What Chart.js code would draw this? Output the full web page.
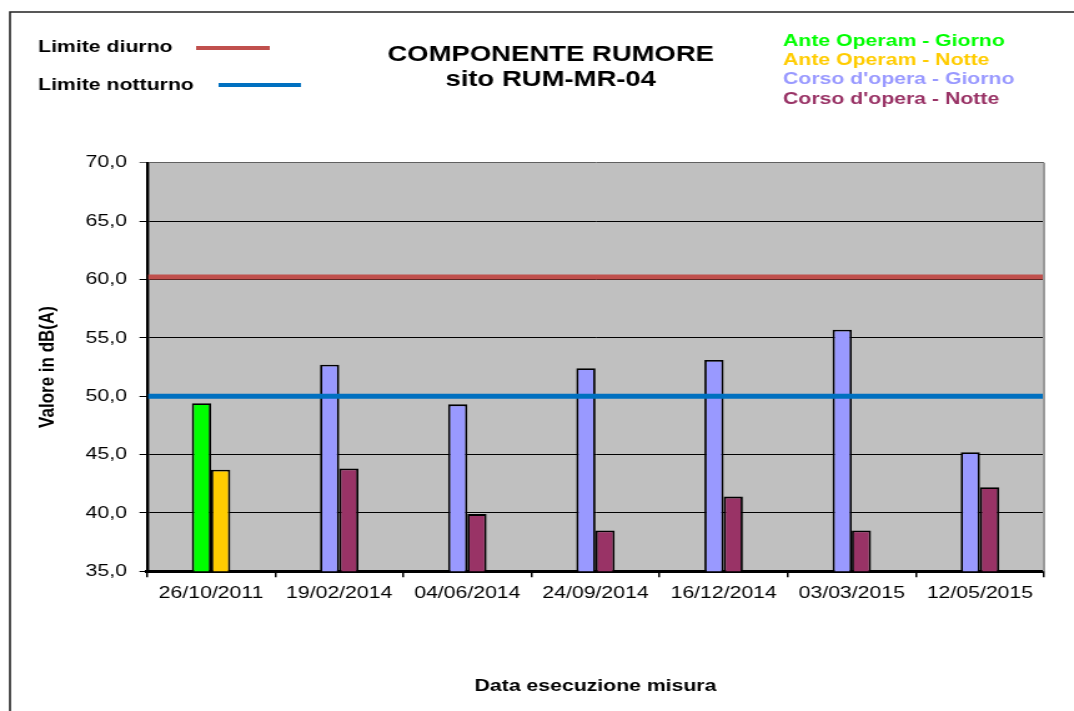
<!DOCTYPE html>
<html>
<head>
<meta charset="utf-8">
<script src="https://cdn.jsdelivr.net/npm/chart.js@4.4.1/dist/chart.umd.min.js"></script>
<style>
  html, body { margin: 0; padding: 0; background: #fff; overflow: hidden; }
  /* the original picture is stretched sideways, so the whole chart is too */
  #wrap { width: 860px; height: 711px; transform: scaleX(1.2488); transform-origin: 0 0; }
</style>
</head>
<body>
<div id="wrap"><canvas id="rumore" width="860" height="711"></canvas></div>
<script>
const categories = ['26/10/2011', '19/02/2014', '04/06/2014', '24/09/2014', '16/12/2014', '03/03/2015', '12/05/2015'];
const anteGiorno = [49.4, null, null, null, null, null, null];
const anteNotte = [43.7, null, null, null, null, null, null];
const corsoGiorno = [null, 52.7, 49.3, 52.4, 53.1, 55.7, 45.2];
const corsoNotte = [null, 43.8, 39.9, 38.5, 41.4, 38.5, 42.2];
const limiteDiurno = 60.2;
const limiteNotturno = 50;
const seriesNames = ['Ante Operam - Giorno', 'Ante Operam - Notte', "Corso d'opera - Giorno", "Corso d'opera - Notte"];
const seriesColors = ['#00ff00', '#ffcc00', '#9999ff', '#993366'];

const FONT = '"Liberation Sans", Arial, sans-serif';
Chart.defaults.font.family = FONT;
Chart.defaults.font.size = 17;
Chart.defaults.color = '#000';

const decor = {
    id: 'decor',
    beforeDraw(chart) {
        const { ctx, chartArea: a } = chart;
        ctx.save();
        ctx.fillStyle = '#c0c0c0';
        ctx.fillRect(a.left, a.top, a.right - a.left, a.bottom - a.top);
        ctx.restore();
    },
    afterDatasetsDraw(chart) {
        const { ctx, chartArea: a } = chart;
        const y = chart.scales.y;
        ctx.save();
        ctx.lineWidth = 5;
        [[limiteDiurno, '#c0504d'], [limiteNotturno, '#0070c0']].forEach(([v, c]) => {
            const py = y.getPixelForValue(v);
            ctx.strokeStyle = c;
            ctx.beginPath();
            ctx.moveTo(a.left + 1, py);
            ctx.lineTo(a.right, py);
            ctx.stroke();
        });
        // plot area right edge
        ctx.strokeStyle = '#999';
        ctx.lineWidth = 2;
        ctx.beginPath();
        ctx.moveTo(a.right, a.top);
        ctx.lineTo(a.right, a.bottom);
        ctx.stroke();
        ctx.restore();
    },
    afterDraw(chart) {
        const ctx = chart.ctx;
        ctx.save();
        // outer frame
        ctx.strokeStyle = '#222';
        ctx.lineWidth = 1.6;
        ctx.beginPath();
        ctx.moveTo(8, 711);
        ctx.lineTo(8, 12);
        ctx.lineTo(860, 12);
        ctx.stroke();

        ctx.textBaseline = 'middle';
        // title
        ctx.textAlign = 'center';
        ctx.font = 'bold 22px ' + FONT;
        ctx.fillText('COMPONENTE RUMORE', 441, 55);
        ctx.fillText('sito RUM-MR-04', 441, 80);

        // limit legend
        ctx.textAlign = 'left';
        ctx.font = 'bold 17px ' + FONT;
        ctx.fillText('Limite diurno', 30.5, 47);
        ctx.fillText('Limite notturno', 30.5, 85);
        ctx.lineWidth = 4;
        ctx.strokeStyle = '#c0504d';
        ctx.beginPath(); ctx.moveTo(157, 48); ctx.lineTo(216, 48); ctx.stroke();
        ctx.strokeStyle = '#0070c0';
        ctx.beginPath(); ctx.moveTo(175, 85); ctx.lineTo(241, 85); ctx.stroke();

        // series legend
        seriesNames.forEach((name, i) => {
            ctx.fillStyle = seriesColors[i];
            ctx.fillText(name, 627, 41 + i * 19.3);
        });
        ctx.restore();
    }
};

const barDataset = (label, data, color, stack) => ({
    label: label,
    data: data,
    stack: stack,
    backgroundColor: color,
    borderColor: '#000',
    borderWidth: 1.8,
    borderSkipped: false,
    categoryPercentage: 0.3,
    barPercentage: 1.0
});

const ctx = document.getElementById('rumore').getContext('2d');
const chart = new Chart(ctx, {
    type: 'bar',
    data: {
        labels: categories,
        datasets: [
            barDataset(seriesNames[0], anteGiorno, seriesColors[0], 'giorno'),
            barDataset(seriesNames[1], anteNotte, seriesColors[1], 'notte'),
            barDataset(seriesNames[2], corsoGiorno, seriesColors[2], 'giorno'),
            barDataset(seriesNames[3], corsoNotte, seriesColors[3], 'notte')
        ]
    },
    options: {
        responsive: false,
        animation: false,
        devicePixelRatio: 1,
        layout: {
            padding: { top: 162.7, right: 24, bottom: 0, left: 0 }
        },
        plugins: {
            legend: { display: false },
            title: { display: false },
            tooltip: { enabled: false }
        },
        scales: {
            x: {
                grid: {
                    offset: true,
                    drawOnChartArea: false,
                    color: '#000',
                    lineWidth: 1.5,
                    tickLength: 6
                },
                border: { color: '#000', width: 3 },
                ticks: { autoSkip: false, maxRotation: 0, padding: 6 },
                title: {
                    display: true,
                    text: 'Data esecuzione misura',
                    font: { weight: 'bold', size: 17 },
                    padding: { top: 0, bottom: 14.8 }
                },
                afterFit(scale) { scale.height = 139.7; }
            },
            y: {
                stacked: true,
                min: 35,
                max: 70,
                grid: {
                    color: (c) => (c.tick && c.tick.value === 70 ? '#606060' : '#000'),
                    lineWidth: 1,
                    tickLength: 6
                },
                border: { color: '#000', width: 2.4 },
                ticks: {
                    stepSize: 5,
                    padding: 10,
                    callback: (v) => v.toFixed(1).replace('.', ',')
                },
                title: {
                    display: true,
                    text: 'Valore in dB(A)',
                    font: { weight: 'bold', size: 17 },
                    padding: { top: 28, bottom: 0 }
                },
                afterFit(scale) { scale.width = 117.7; }
            }
        }
    },
    plugins: [decor]
});
</script>
</body>
</html>
